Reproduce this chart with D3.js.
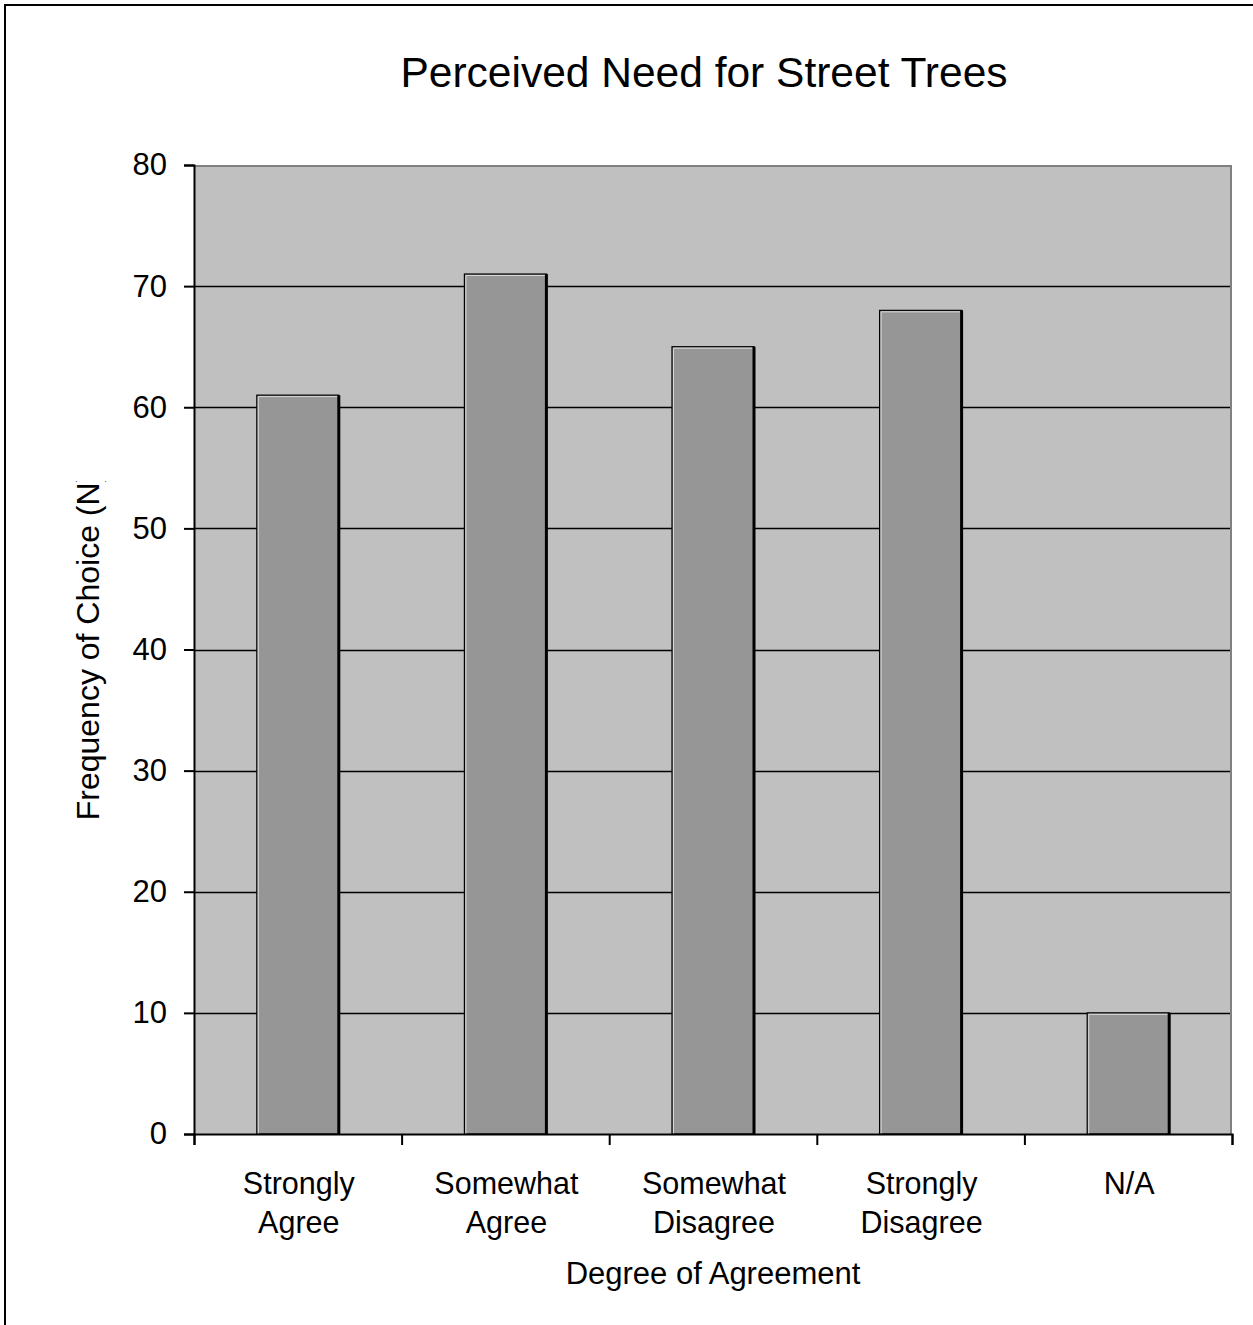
<!DOCTYPE html>
<html><head><meta charset="utf-8">
<script src="https://cdn.jsdelivr.net/npm/d3@7"></script>
<style>body{margin:0;background:#fff}svg{display:block}text{font-family:"Liberation Sans",Arial,sans-serif;fill:#000}</style>
</head><body>
<script>
const categories = [["Strongly","Agree"],["Somewhat","Agree"],["Somewhat","Disagree"],["Strongly","Disagree"],["N/A"]];
const values = [61, 71, 65, 68, 10];
const yTicks = [0,10,20,30,40,50,60,70,80];
const title = "Perceived Need for Street Trees";
const xTitle = "Degree of Agreement";
const yTitle = "Frequency of Choice (N)";

const W = 1253, H = 1325;
const svg = d3.select("body").append("svg").attr("width", W).attr("height", H);
svg.append("rect").attr("x",5).attr("y",5).attr("width",1270).attr("height",1340)
  .attr("fill","#fff").attr("stroke","#000").attr("stroke-width",2);

const L = 194, R = 1232, T = 165, B = 1134;
const x = d3.scaleBand().domain(d3.range(categories.length)).range([L, R]).padding(0);
const y = d3.scaleLinear().domain([0, 80]).range([B, T]);

svg.append("rect").attr("x",L).attr("y",T).attr("width",R-L).attr("height",B-T).attr("fill","#C0C0C0");
// gridlines
svg.append("g").selectAll("line").data(yTicks.filter(d=>d>0 && d<80)).join("line")
  .attr("x1",L).attr("x2",R).attr("y1",d=>Math.round(y(d))+0.5).attr("y2",d=>Math.round(y(d))+0.5)
  .attr("stroke","#000").attr("stroke-width",1.3);
// plot border top/right gray
svg.append("path").attr("d",`M${L},${T+1}H${R-1}V${B}`).attr("fill","none").attr("stroke","#808080").attr("stroke-width",2);

// bars
const bw = x.bandwidth()*0.395;
const bars = svg.append("g").selectAll("g").data(values).join("g");
bars.append("rect")
  .attr("x",(d,i)=>x(i)+x.bandwidth()/2-bw/2).attr("y",d=>y(d))
  .attr("width",bw).attr("height",d=>B-y(d))
  .attr("fill","#969696").attr("stroke","#000").attr("stroke-width",1.2);
bars.append("path")
  .attr("d",(d,i)=>{const x0=x(i)+x.bandwidth()/2-bw/2+1.5, y0=y(d)+1.5; return `M${x0},${B}V${y0}H${x0+bw-3}`;})
  .attr("fill","none").attr("stroke","#d8d8d8").attr("stroke-width",1);
bars.append("line")
  .attr("x1",(d,i)=>x(i)+x.bandwidth()/2+bw/2).attr("x2",(d,i)=>x(i)+x.bandwidth()/2+bw/2)
  .attr("y1",d=>y(d)).attr("y2",B).attr("stroke","#000").attr("stroke-width",3);

// y axis
const yAxis = svg.append("g").attr("transform",`translate(${L},0)`)
  .call(d3.axisLeft(y).tickValues(yTicks).tickSize(10).tickPadding(17).tickFormat(d3.format("d")));
yAxis.select(".domain").attr("stroke","#000").attr("stroke-width",2);
yAxis.selectAll(".tick line").attr("stroke","#000").attr("stroke-width",2);
yAxis.selectAll(".tick text").attr("font-size",31).attr("font-family","Liberation Sans, Arial, sans-serif").attr("fill","#000");

// x axis
const xb = d3.scaleLinear().domain([0,categories.length]).range([L,R]);
const xAxis = svg.append("g").attr("transform",`translate(0,${B})`)
  .call(d3.axisBottom(xb).tickValues(d3.range(categories.length+1)).tickSize(11).tickFormat(""));
xAxis.select(".domain").attr("stroke","#000").attr("stroke-width",2);
xAxis.selectAll(".tick line").attr("stroke","#000").attr("stroke-width",2);

svg.append("g").selectAll("text").data(categories).join("text")
  .attr("x",(d,i)=>x(i)+x.bandwidth()/2+1).attr("y",1194)
  .attr("text-anchor","middle").attr("font-size",30.5)
  .selectAll("tspan").data(d=>d).join("tspan")
  .attr("x",function(){return this.parentNode.getAttribute("x");})
  .attr("dy",(d,i)=>i===0?0:39).text(d=>d);

svg.append("text").attr("x",713).attr("y",1284).attr("text-anchor","middle").attr("font-size",31).text(xTitle);
svg.append("text").attr("x",704).attr("y",87).attr("text-anchor","middle").attr("font-size",42.5).text(title);

svg.append("clipPath").attr("id","yclip").append("rect").attr("x",0).attr("y",481).attr("width",200).attr("height",800);
svg.append("g").attr("clip-path","url(#yclip)").append("text")
  .attr("transform","translate(99,646) rotate(-90)").attr("text-anchor","middle").attr("font-size",32).text(yTitle);
</script>
</body></html>
